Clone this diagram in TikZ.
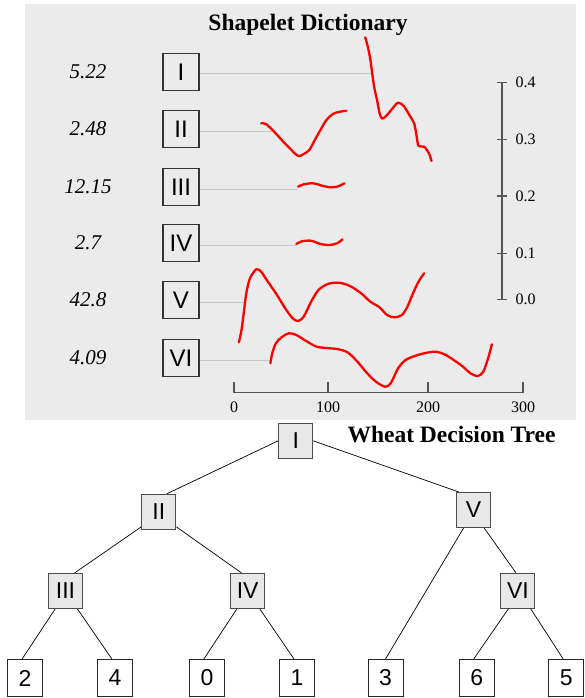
\documentclass[tikz,border=0pt]{standalone}
\usepackage{fontspec}
\setmainfont{Liberation Serif}
\setsansfont{Liberation Sans}
\usepackage{tikz}

\definecolor{panelgray}{HTML}{EBEBEB}
\definecolor{nodegray}{HTML}{E8E8E8}
\definecolor{axisgray}{HTML}{555555}
\definecolor{guidegray}{HTML}{C8C8C8}

\tikzset{
  dictbox/.style={draw=black!80, fill=panelgray, line width=1.1pt, minimum width=36pt, minimum height=37pt, inner sep=0pt, font=\sffamily\fontsize{24}{24}\selectfont},
  dictval/.style={font=\rmfamily\itshape\fontsize{21}{21}\selectfont},
  guide/.style={guidegray, line width=1pt},
  shapelet/.style={red, line width=2.3pt, line cap=round, line join=round},
  axisline/.style={axisgray, line width=1.2pt},
  ticklabel/.style={font=\rmfamily\fontsize{16}{16}\selectfont},
  inner/.style={draw=black!70, fill=nodegray, line width=1pt, minimum width=34pt, minimum height=35pt, inner sep=0pt, font=\sffamily\fontsize{23}{23}\selectfont},
  leaf/.style={draw=black!85, fill=white, line width=1pt, minimum width=35pt, minimum height=37pt, inner sep=0pt, font=\sffamily\fontsize{23}{23}\selectfont},
  branch/.style={black, line width=0.7pt},
  heading/.style={font=\rmfamily\bfseries\fontsize{23.5}{23.5}\selectfont}
}

\begin{document}
\begin{tikzpicture}[x=1pt, y=-1pt]
  \useasboundingbox (0,0) rectangle (584,698);
  \fill[panelgray] (25,4) rectangle (576,420);

  % dictionary
  \node[heading] (dicttitle) at (308,25) {Shapelet Dictionary};
  \foreach \n/\y/\v in {I/72/5.22, II/129/2.48, III/187/12.15, IV/243/2.7, V/300/42.8, VI/358/4.09} {
    \node[dictbox] (d\n) at (181,\y) {\n};
    \node[dictval] (v\n) at (88,\y) {\v};
  }
  \coordinate (sI) at (371,74);
  \coordinate (sII) at (273,131);
  \coordinate (sIII) at (298,189);
  \coordinate (sIV) at (296,245);
  \coordinate (sV) at (245,302);
  \coordinate (sVI) at (271,360);
  \foreach \n in {I,II,III,IV,V,VI}
    \draw[guide] ([yshift=-2pt]d\n.east) -- (s\n);

  \draw[shapelet] plot[smooth, tension=0.5] coordinates {(365.2,37.3) (367.8,46.7) (370.4,60) (372.2,73.3) (374.1,86.7) (377,100) (379.6,113.3) (382.2,118.7) (387,115) (392.6,108.3) (398.1,102.7) (403.7,106) (409.3,115) (414.1,123.3) (416.7,136.7) (418.5,146) (424.1,146.7) (428.9,153.3) (431.5,161)};
  \draw[shapelet] plot[smooth, tension=0.5] coordinates {(261.1,123.3) (265.9,124) (274.1,131.7) (283.3,141.7) (290.7,149.3) (298.1,156) (303.7,154) (309.3,150) (314.8,140) (320.4,130) (325.9,120.7) (331.5,115) (337,112.3) (346.3,110.7)};
  \draw[shapelet] plot[smooth, tension=0.5] coordinates {(298.1,186.7) (303.7,184.3) (313,183.3) (322.2,185.7) (329.6,187.3) (337,186.7) (344.4,183.3)};
  \draw[shapelet] plot[smooth, tension=0.5] coordinates {(296.3,244) (301.9,241.3) (311.1,240.7) (320.4,244) (329.6,245) (337,243.3) (342.6,239.3)};
  \draw[shapelet] plot[smooth, tension=0.5] coordinates {(238.9,342.3) (241.5,330) (243.7,313.3) (246.3,293.3) (250,278.3) (256.3,269.3) (261.1,271.7) (266.7,280) (275.9,293.3) (285.2,308.3) (292.6,318.3) (298.1,321) (303.7,316.7) (311.1,301.7) (318.5,290) (327.8,284) (338.9,282.7) (350,286) (361.1,293.3) (370.4,301.7) (379.6,307.3) (387,315) (394.4,317.3) (401.9,315) (407.4,306.7) (413,293.3) (418.5,281.7) (424.1,273.3)};
  \draw[shapelet] plot[smooth, tension=0.5] coordinates {(270.4,363.3) (272.2,353.3) (275.9,343.3) (281.5,337.3) (288.9,333.3) (296.3,335) (305.6,340.7) (316.7,346.7) (329.6,348.3) (338.9,349.3) (348.1,352.7) (357.4,361.7) (366.7,372.7) (375.9,381.7) (385.2,386.7) (390.7,383.3) (398.1,368.3) (405.6,360) (414.8,356) (424.1,353.3) (435.2,351.7) (444.4,354.3) (453.7,360) (463,366.7) (470.4,373.3) (477.8,376) (483.3,371.7) (488.1,358.3) (491.9,344.3)};

  % axes
  \draw[axisline] (234,392.7) -- (523,392.7);
  \foreach \x/\t in {234/0, 328/100, 428/200, 523/300} {
    \draw[axisline] (\x,381.7) -- (\x,392.7);
    \node[ticklabel] at (\x,407) {\t};
  }
  \draw[axisline] (502,82.7) -- (502,299.3);
  \foreach \y/\t in {82.7/0.4, 139.3/0.3, 196/0.2, 253.3/0.1, 299.3/0.0} {
    \draw[axisline] (496.5,\y) -- (507,\y);
    \node[ticklabel, anchor=west] at (512,\y) {\t};
  }

  % decision tree
  \node[heading] (treetitle) at (451.5,435) {Wheat Decision Tree};
  \node[inner] (I) at (295.7,440.8) {I};
  \node[inner] (II) at (158.8,511.8) {II};
  \node[inner] (V) at (473.6,510) {V};
  \node[inner] (III) at (65.5,591) {III};
  \node[inner] (IV) at (247.7,590.8) {IV};
  \node[inner] (VI) at (517.9,590.8) {VI};
  \foreach \n/\x in {2/25.1, 4/114.9, 0/206.9, 1/297, 3/385.5, 6/476.7, 5/566.2}
    \node[leaf] (l\n) at (\x,678) {\n};

  \draw[branch] (I.west) -- ([xshift=8pt]II.north);
  \draw[branch] (I.east) -- ([xshift=-14.7pt]V.north);
  \draw[branch] ([yshift=3pt]II.south west) -- ([xshift=9pt]III.north);
  \draw[branch] ([yshift=3pt]II.south east) -- ([xshift=-6.4pt]IV.north);
  \draw[branch] ([xshift=-10pt]V.south) -- (l3.north);
  \draw[branch] ([xshift=10.6pt]V.south) -- ([xshift=-2pt]VI.north);
  \foreach \p/\c/\s in {III/l2/-10.4, III/l4/12, IV/l0/-10.8, IV/l1/12, VI/l6/-9.5, VI/l5/12.8}
    \draw[branch] ([xshift=\s pt]\p.south) -- ([xshift=-3pt]\c.north);
\end{tikzpicture}
\end{document}
